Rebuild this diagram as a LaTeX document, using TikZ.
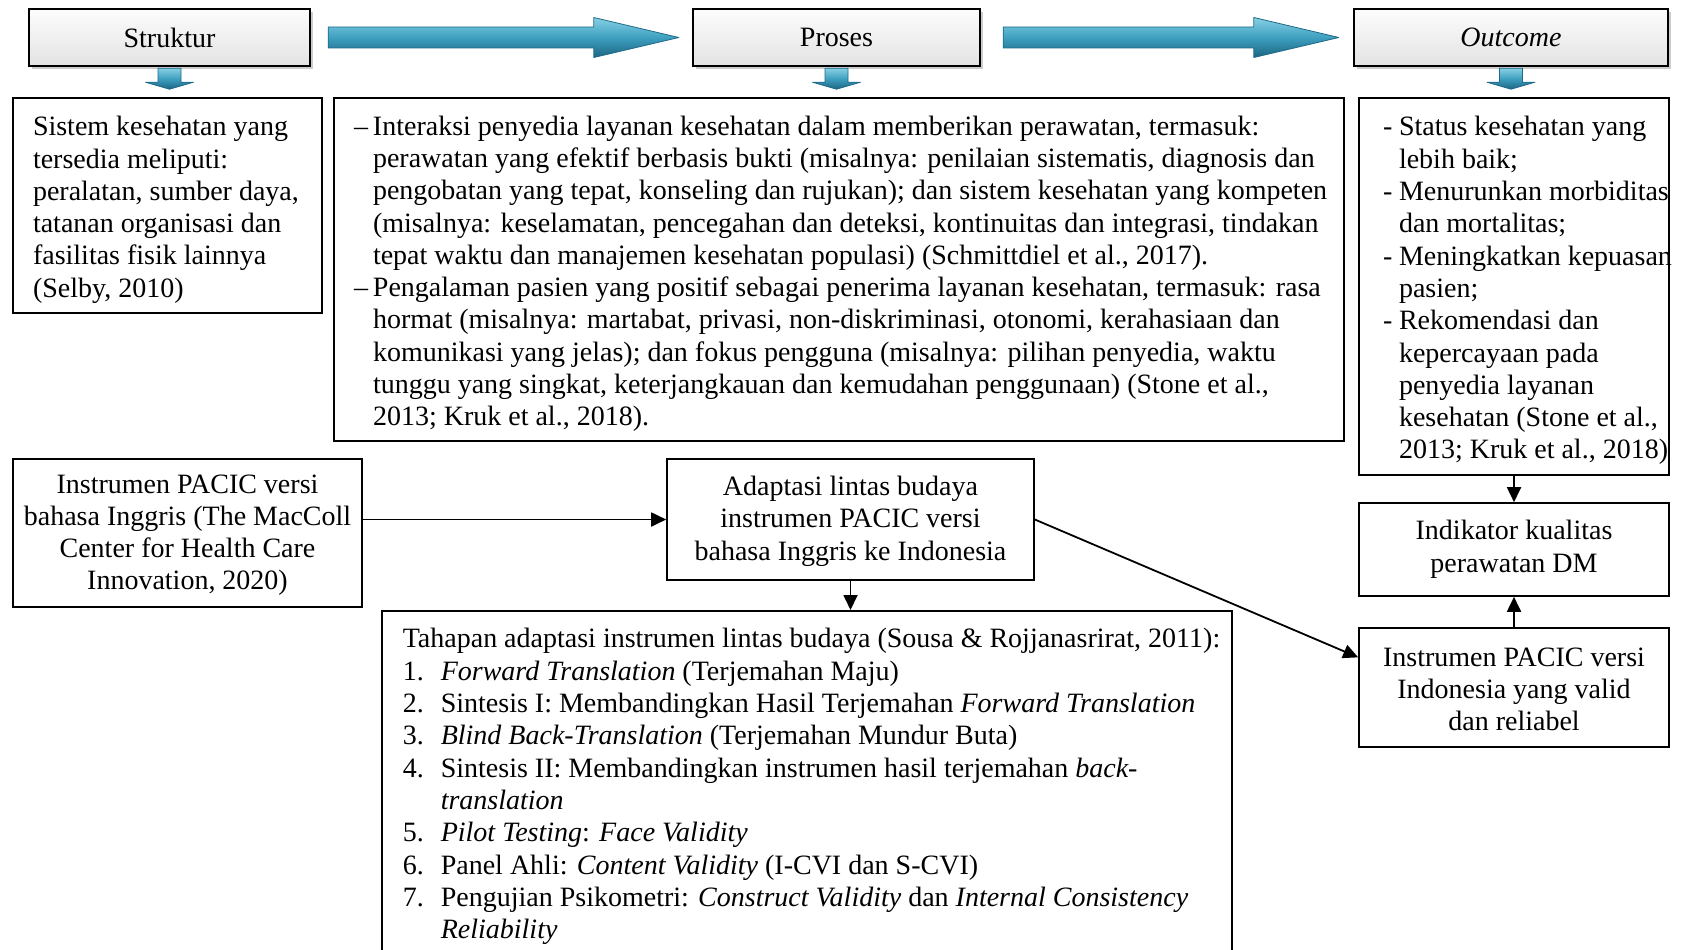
\documentclass[tikz,border=0pt]{standalone}
\usepackage{fontspec}
\setmainfont{Liberation Serif}
\usetikzlibrary{arrows.meta,calc,shadows}
\definecolor{atop}{RGB}{135,208,228}
\definecolor{amid}{RGB}{62,160,192}
\definecolor{abot}{RGB}{28,100,130}
\definecolor{aline}{RGB}{30,105,135}
\newcommand\dn[2]{\vbox{\kern#1\hbox{#2}}}
\newcommand\lblock[2]{\makebox[#1][l]{\begin{tabular}{@{}l@{}l@{}}#2\end{tabular}}}
\newcommand\cblock[1]{\begin{tabular}{@{}c@{}}#1\end{tabular}}
\newcommand\smallarrow[2]{%
  \path[blockarrow] ($(#1.south)+(-11.5,1)$) -- ($(#1.south |- #2.north)+(-11.5,-15)$)
   -- ($(#1.south |- #2.north)+(-24,-15)$) -- ($(#1.south |- #2.north)+(0,-8)$)
   -- ($(#1.south |- #2.north)+(24,-15)$) -- ($(#1.south |- #2.north)+(11.5,-15)$)
   -- ($(#1.south)+(11.5,1)$) -- cycle;}
\begin{document}
\begin{tikzpicture}[x=1pt,y=-1pt,
  every node/.style={font=\fontsize{28}{32.3}\selectfont},
  hdr/.style={draw=black, line width=2.4pt, top color=gray!2, bottom color=gray!22,
    minimum height=57pt, inner sep=0pt,
    drop shadow={shadow xshift=2.5pt,shadow yshift=-3pt,opacity=0.4}},
  tbox/.style={draw=black, line width=1.6pt, inner sep=0pt},
  conn/.style={line width=1.8pt, -{Triangle[length=15pt,width=14pt]}},
  blockarrow/.style={draw=aline, line width=0.8pt, top color=atop, bottom color=abot,
    middle color=amid, line join=round}
]
\useasboundingbox (0,0) rectangle (1681,950);
\clip (0,0) rectangle (1681,950);

% headers
\node[hdr, minimum width=281pt] (struk) at (169.5,37.5) {Struktur};
\node[hdr, minimum width=287pt] (pros) at (836.5,37.5) {Proses};
\node[hdr, minimum width=314pt] (outc) at (1511,37.5) {\textit{Outcome}};

% boxes
\node[tbox, minimum width=309pt, minimum height=215pt] (sis) at (167.5,205.5)
 {\dn{9pt}{\lblock{269pt}{Sistem kesehatan yang\\ tersedia meliputi:\\ peralatan, sumber daya,\\
  tatanan organisasi dan\\ fasilitas fisik lainnya\\ (Selby, 2010)}}};

\node[tbox, minimum width=1010pt, minimum height=343pt] (inter) at (839,269.5)
 {\dn{9pt}{\lblock{970pt}{\makebox[19pt][l]{--}&Interaksi penyedia layanan kesehatan dalam memberikan perawatan, termasuk:\\
 &perawatan yang efektif berbasis bukti (misalnya: penilaian sistematis, diagnosis dan\\
 &pengobatan yang tepat, konseling dan rujukan); dan sistem kesehatan yang kompeten\\
 &(misalnya: keselamatan, pencegahan dan deteksi, kontinuitas dan integrasi, tindakan\\
 &tepat waktu dan manajemen kesehatan populasi) (Schmittdiel et al., 2017).\\
 \makebox[19pt][l]{--}&Pengalaman pasien yang positif sebagai penerima layanan kesehatan, termasuk: rasa\\
 &hormat (misalnya: martabat, privasi, non-diskriminasi, otonomi, kerahasiaan dan\\
 &komunikasi yang jelas); dan fokus pengguna (misalnya: pilihan penyedia, waktu\\
 &tunggu yang singkat, keterjangkauan dan kemudahan penggunaan) (Stone et al.,\\
 &2013; Kruk et al., 2018).}}};

\node[tbox, minimum width=310pt, minimum height=377pt] (stat) at (1514,286.5)
 {\dn{9pt}{\lblock{262pt}{\makebox[16pt][l]{-}&Status kesehatan yang\\ &lebih baik;\\
 \makebox[16pt][l]{-}&Menurunkan morbiditas\\ &dan mortalitas;\\
 \makebox[16pt][l]{-}&Meningkatkan kepuasan\\ &pasien;\\
 \makebox[16pt][l]{-}&Rekomendasi dan\\ &kepercayaan pada\\ &penyedia layanan\\
 &kesehatan (Stone et al.,\\ &2013; Kruk et al., 2018)}}};

\node[tbox, minimum width=349pt, minimum height=148pt] (inst) at (187.5,533)
 {\dn{4pt}{\cblock{Instrumen PACIC versi\\ bahasa Inggris (The MacColl\\ Center for Health Care\\ Innovation, 2020)}}};

\node[tbox, minimum width=367pt, minimum height=121pt] (adap) at (850.5,519.5)
 {\dn{4pt}{\cblock{Adaptasi lintas budaya\\ instrumen PACIC versi\\ bahasa Inggris ke Indonesia}}};

\node[tbox, minimum width=310pt, minimum height=93pt] (indi) at (1514,549.5)
 {\cblock{Indikator kualitas\\ perawatan DM}};

\node[tbox, minimum width=310pt, minimum height=119pt] (hasil) at (1514,687.5)
 {\dn{9pt}{\cblock{Instrumen PACIC versi\\ Indonesia yang valid\\ dan reliabel}}};

\node[tbox, anchor=north west, minimum width=850pt, inner ysep=12pt] (tah) at (381,610)
 {\dn{2.5pt}{\lblock{808pt}{\multicolumn{2}{@{}l@{}}{Tahapan adaptasi instrumen lintas budaya (Sousa \& Rojjanasrirat, 2011):}\\
 \makebox[38pt][l]{1.}&\textit{Forward Translation} (Terjemahan Maju)\\
 \makebox[38pt][l]{2.}&Sintesis I: Membandingkan Hasil Terjemahan \textit{Forward Translation}\\
 \makebox[38pt][l]{3.}&\textit{Blind Back-Translation} (Terjemahan Mundur Buta)\\
 \makebox[38pt][l]{4.}&Sintesis II: Membandingkan instrumen hasil terjemahan \textit{back-}\\
 &\textit{translation}\\
 \makebox[38pt][l]{5.}&\textit{Pilot Testing}: \textit{Face Validity}\\
 \makebox[38pt][l]{6.}&Panel Ahli: \textit{Content Validity} (I-CVI dan S-CVI)\\
 \makebox[38pt][l]{7.}&Pengujian Psikometri: \textit{Construct Validity} dan \textit{Internal Consistency}\\
 &\textit{Reliability}}}};

% big arrows
\path[blockarrow] ($(struk.east)+(17,-10.5)$) -- ($(pros.west)+(-98,-10.5)$)
  -- ($(pros.west)+(-98,-20)$) -- ($(pros.west)+(-13,0)$) -- ($(pros.west)+(-98,20)$)
  -- ($(pros.west)+(-98,10.5)$) -- ($(struk.east)+(17,10.5)$) -- cycle;
\path[blockarrow] ($(pros.east)+(22,-10.5)$) -- ($(outc.west)+(-99,-10.5)$)
  -- ($(outc.west)+(-99,-20)$) -- ($(outc.west)+(-14,0)$) -- ($(outc.west)+(-99,20)$)
  -- ($(outc.west)+(-99,10.5)$) -- ($(pros.east)+(22,10.5)$) -- cycle;

% small arrows
\smallarrow{struk}{sis}
\smallarrow{pros}{inter}
\smallarrow{outc}{stat}

% connectors
\draw[conn] (inst.east |- adap.west) -- (adap.west);
\draw[conn] (adap.south) -- (adap.south |- tah.north);
\draw[conn] (adap.east) -- ($(hasil.north west)!0.25!(hasil.south west)$);
\draw[conn] (stat.south) -- (indi.north);
\draw[conn] (hasil.north) -- (indi.south);
\end{tikzpicture}
\end{document}
